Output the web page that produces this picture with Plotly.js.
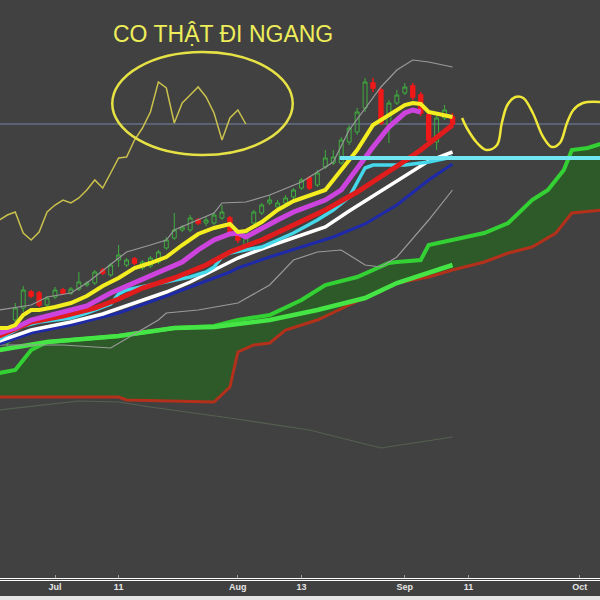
<!DOCTYPE html>
<html><head><meta charset="utf-8">
<script src="https://cdn.plot.ly/plotly-3.0.1.min.js"></script>
<style>html,body{margin:0;padding:0;background:#404040;}#chart{width:600px;height:600px;}</style>
</head><body><div id="chart"></div>
<script>
// ---- data (prices, trading-day index: Jul 1 = 0) ----
const barIndex = [-6,-5,-4,-3,-2,-1,0,1,2,3,4,5,6,7,8,9,10,11,12,13,14,15,16,17,18,19,20,21,22,23,24,25,26,27,28,29,30,31,32,33,34,35,36,37,38,39,40,41,42,43,44,45,46,47,48,49,50];
const openP  = [25.7,28.0,29.2,30.8,30.7,29.5,30.3,31.0,30.7,31.1,31.5,31.7,33.0,32.5,34.0,33.5,34.1,33.2,33.4,33.8,35.2,36.2,37.0,37.0,38.0,37.7,37.7,38.2,38.2,36.7,35.3,37.7,38.7,39.7,39.3,39.7,40.3,41.2,42.2,41.5,43.3,43.7,43.7,45.8,46.8,49.2,51.7,51.0,47.5,49.7,50.7,51.4,50.5,48.5,45.8,48.2,48.3];
const highP  = [26.7,29.7,31.4,31.0,30.9,30.4,31.3,31.2,31.3,32.8,31.9,33.0,33.2,33.7,35.5,34.2,34.3,34.0,34.4,35.0,36.3,38.7,37.5,38.5,38.2,38.3,38.8,39.5,38.4,36.9,37.0,39.0,39.7,40.5,40.0,40.5,41.2,42.2,42.4,43.0,45.0,45.0,46.3,47.5,49.2,52.2,52.2,51.2,50.0,51.0,51.7,51.7,50.8,48.7,48.7,49.5,48.7];
const lowP   = [25.4,27.2,28.8,30.2,29.3,29.3,30.1,30.5,30.5,30.9,31.3,31.5,32.5,32.3,33.3,33.3,33.5,33.0,33.2,33.6,35.0,36.0,36.8,36.8,37.5,37.4,37.5,38.0,36.5,35.7,35.2,37.5,38.5,39.5,39.1,39.5,40.1,41.0,41.0,41.3,43.1,43.5,43.5,45.5,46.5,48.8,50.8,47.5,45.7,49.5,50.5,50.0,48.4,45.8,45.0,48.0,47.2];
const closeP = [26.3,29.2,31.0,30.4,29.5,30.2,31.0,30.7,31.1,31.8,31.7,32.8,32.7,33.5,34.5,34.0,33.7,33.8,34.2,34.8,36.0,37.0,37.3,38.2,37.7,38.0,38.5,38.8,36.7,36.0,36.8,38.8,39.5,40.0,39.7,40.2,41.0,42.0,41.2,42.7,44.2,44.3,46.0,47.2,48.8,51.8,51.2,47.7,49.7,50.5,51.3,50.3,48.7,46.0,48.2,49.0,47.6];
const laggingShift = 26;

const ma5X = [-7,-6,-5,-4,-3,-2,0,2,4,6,8,10,12,14,16,18,20,22,23,24,26,28,30,32,34,36,38,40,42,44,45,46,47,48,50];
const ma5Y = [27.2,27.2,27.5,28.5,29.0,29.0,29.3,29.7,30.4,31.4,32.2,33.2,33.7,34.3,35.5,36.6,37.2,37.6,36.8,36.9,37.8,39.0,39.9,40.4,41.0,43.0,45.0,47.5,48.5,49.5,49.7,49.6,48.8,48.6,48.3];
const ma10X = [-7,-5,-3,-1,1,4,7,10,12,14,16,18,20,22,23,24,26,28,30,32,34,36,38,40,42,44,45,46];
const ma10Y = [26.7,27.2,28.0,28.4,28.8,29.4,30.7,31.7,32.4,33.0,33.8,35.0,36.0,36.6,36.7,36.3,37.2,38.0,38.8,39.4,40.0,41.0,43.2,45.3,47.3,48.7,49.0,48.8];
const ma20X = [-7,-3,1,5,8,11,15,19,22,26,30,34,38,42,44,46,48,50];
const ma20Y = [26.4,27.8,28.4,29.2,30.1,31.2,32.2,33.5,34.8,36.0,37.5,39.0,40.8,42.8,43.9,45.0,46.2,47.5];
const tenkanX = [-7,-4,-2,0,2,4,7,8,9,12,15,17,19,20,21,22,26,30,33,35,37,39,40,44,47,50];
const tenkanY = [26.1,27.4,27.8,28.0,28.2,28.7,29.6,30.6,31.0,31.5,32.0,32.3,32.8,33.3,34.3,34.7,35.3,36.7,38.0,39.0,40.3,43.2,43.5,43.5,43.8,44.3];
const ma30X = [-7,-3,2,6,10,14,17,22,23,27,31,34,37,40,43,47,50];
const ma30Y = [25.9,27.0,27.8,28.6,29.7,30.8,31.8,33.8,34.2,35.4,36.5,37.3,38.9,40.4,42.0,43.9,44.8];
const ma50X = [-7,-3,2,8,14,18,22,23,27,31,35,39,43,47,50];
const ma50Y = [25.6,26.7,27.5,28.7,30.4,31.6,32.8,33.2,34.3,35.3,36.3,37.6,39.5,42.0,43.6];
const kijunX = [-7,-1,8,15,20,27,33,39,43,50];
const kijunY = [25.0,25.8,26.4,27.2,27.3,28.0,29.0,30.2,31.7,33.5];
const spanAX = [-7,-5,-4,-3,-1,3,8,15,20,23,27,31,34,38,42,43,46,47,50,54,57,60,62,64,65,67,69];
const spanAY = [22.7,23.0,24.0,25.0,25.8,26.1,26.4,27.2,27.4,28.0,28.5,30.0,31.5,32.3,33.7,33.8,34.0,35.5,36.0,36.7,37.7,40.0,41.0,43.0,45.0,45.2,45.7];
const spanBX = [-7,8,9,20,22,23,25,27,29,32,33,37,43,47,50,54,57,60,63,65,69];
const spanBY = [20.3,20.3,20.0,19.8,21.3,24.8,25.5,25.7,27.0,27.7,28.0,29.5,31.7,32.3,33.0,33.8,34.7,35.3,36.7,38.7,39.0];
const bbUpX = [-7,-3,-1,2,4,7,9,12,14,15,17,20,21,24,27,31,35,37,41,43,45,47,50];
const bbUpY = [29.0,29.5,30.3,30.7,31.7,33.6,34.8,35.5,36.0,37.0,37.7,38.7,39.7,39.8,40.5,41.8,43.8,47.0,51.3,53.0,54.0,53.8,53.3];
const bbLoX = [-7,1,7,13,14,18,23,27,30,33,36,39,41,43,47,50];
const bbLoY = [25.5,25.5,25.2,28.0,28.7,29.0,29.7,31.5,34.0,34.8,35.0,33.5,33.3,34.3,38.0,41.0];
const faintX = [-7,3,8,12,22,32,41,50];
const faintY = [19.0,19.9,19.8,19.3,18.2,17.0,15.2,16.3];
const supportX = [35.8,69];
const supportY = [44.2,44.2];
const priceLine = 47.6;
const waveX = [51.2,51.8,53.1,54.3,55.6,56.2,56.9,57.9,58.9,60.1,61.4,62.5,63.5,64.4,65.2,66.4,68.6];
const waveY = [48.2,47.2,45.7,45.0,45.5,47.7,49.5,50.3,50.2,48.7,46.3,45.3,45.7,47.7,49.0,49.7,49.8];
const circleX = [7.2, 29.9];
const circleY = [44.5, 54.8];
const tickPos = [0,8,23,31,44,52,66];
const tickLabels = ['Jul','11','Aug','13','Sep','11','Oct'];
const noteText = 'CO THẬT ĐI NGANG';

// lagging span: closes plotted 26 bars back
const lagX = [], lagY = [];
barIndex.forEach((b, k) => { if (b - laggingShift >= -7) { lagX.push(b - laggingShift); lagY.push(closeP[k]); } });

function ln(x, y, color, width, extra) {
  return Object.assign({type:'scatter', mode:'lines', x:x, y:y, line:{color:color, width:width}, hoverinfo:'skip'}, extra || {});
}
const traces = [
  ln(spanBX, spanBY, '#b3311a', 3),
  ln(spanAX, spanAY, '#33d133', 4, {fill:'tonexty', fillcolor:'#2e5a2a'}),
  ln(faintX, faintY, '#566052', 1.2),
  ln(kijunX, kijunY, '#45e545', 4.5),
  ln(bbUpX, bbUpY, '#9a9a9a', 1.2),
  ln(bbLoX, bbLoY, '#9a9a9a', 1.2),
  ln(ma50X, ma50Y, '#1e2aa8', 3),
  ln(ma30X, ma30Y, '#ffffff', 3.5),
  ln(tenkanX, tenkanY, '#45d8ea', 3.5),
  ln(ma20X, ma20Y, '#e01c1c', 5),
  ln(ma10X, ma10Y, '#cc44dd', 5),
  ln(ma5X, ma5Y, '#f4ee20', 4),
  ln(supportX, supportY, '#6fe6f2', 4),
  ln(lagX, lagY, '#c9c14c', 1.5),
  {type:'candlestick', x:barIndex, open:openP, high:highP, low:lowP, close:closeP,
   increasing:{line:{color:'#3fae3f', width:1}, fillcolor:'rgba(0,0,0,0)'},
   decreasing:{line:{color:'#f01818', width:1.5}, fillcolor:'#f01818'},
   whiskerwidth:0, hoverinfo:'skip'},
  ln(waveX, waveY, '#f0e838', 2.5, {line:{color:'#f0e838', width:2.5, shape:'spline'}})
];

const layout = {
  width:600, height:600,
  margin:{l:0, r:0, t:0, b:22},
  paper_bgcolor:'#404040', plot_bgcolor:'#414141',
  showlegend:false,
  boxgap:0.3,
  xaxis:{range:[-6.92, 68.55], tickvals:tickPos, ticktext:tickLabels, showgrid:false, zeroline:false,
         showline:true, linecolor:'#ffffff', linewidth:1, ticks:'inside', ticklen:3, tickcolor:'#9a9a9a',
         tickfont:{size:9, color:'#e6e6e6', family:'Liberation Sans', weight:'bold'},
         rangeslider:{visible:false}, fixedrange:true},
  yaxis:{range:[2.2, 60], visible:false, showgrid:false, zeroline:false, fixedrange:true},
  shapes:[
    {type:'line', xref:'paper', yref:'y', x0:0, x1:1, y0:priceLine, y1:priceLine, line:{color:'#7585a8', width:1}, layer:'below'},
    {type:'circle', xref:'x', yref:'y', x0:circleX[0], x1:circleX[1], y0:circleY[0], y1:circleY[1], line:{color:'#e6e245', width:2.5}},
    {type:'line', xref:'paper', yref:'paper', x0:0, x1:1, y0:-0.0043, y1:-0.0043, line:{color:'#ffffff', width:1}},
    {type:'rect', xref:'paper', yref:'paper', x0:0, x1:1, y0:-0.04, y1:-0.031, fillcolor:'#e4e4e4', line:{width:0}}
  ],
  annotations:[{text:noteText, xref:'paper', yref:'paper', x:0.372, y:0.941, xanchor:'center', yanchor:'middle',
     showarrow:false, font:{family:'Liberation Sans', size:23, color:'#eeee5a'}}]
};
Plotly.newPlot('chart', traces, layout, {staticPlot:true, displayModeBar:false});
</script></body></html>
